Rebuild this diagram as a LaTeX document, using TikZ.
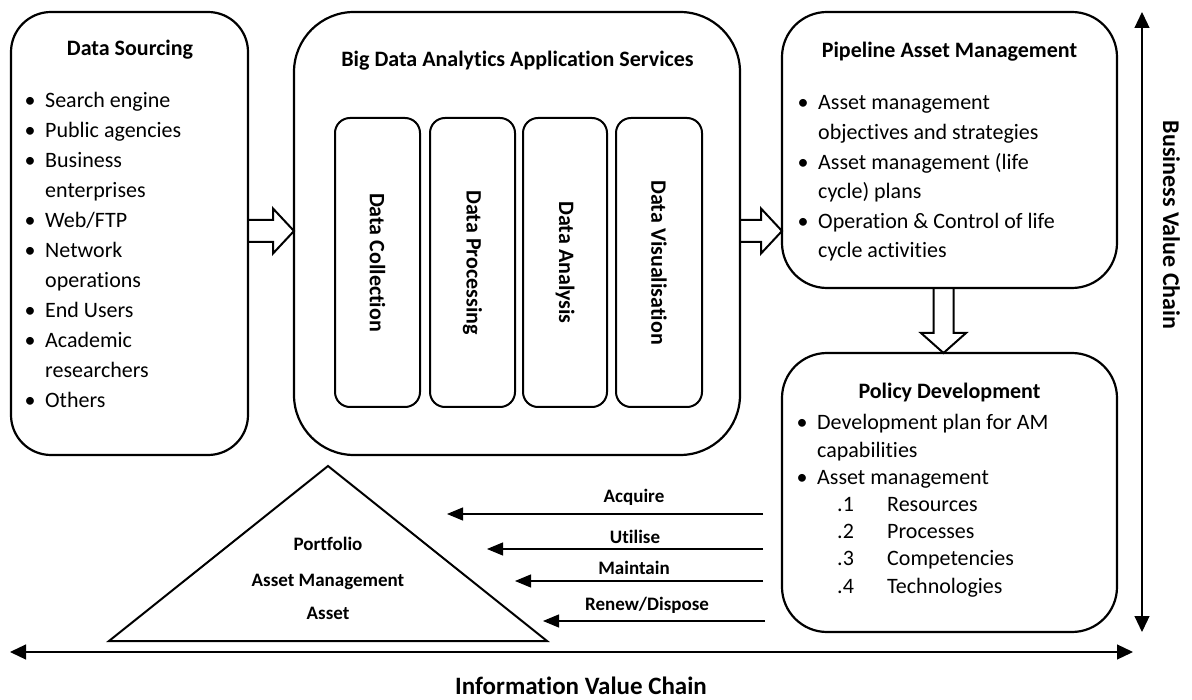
\documentclass[tikz,border=0pt]{standalone}
\usepackage{fontspec}
\setmainfont{Carlito}[Ligatures=NoCommon]
\usetikzlibrary{arrows.meta}
\newcommand{\lbul}{\makebox[16pt]{•}}
\begin{document}
\begin{tikzpicture}[x=1pt,y=-1pt,
  panel/.style={draw, line width=2.2pt, rounded corners=#1, anchor=north west, inner sep=0pt, outer sep=0pt},
  stage/.style={draw, line width=2pt, rounded corners=15pt, rotate=-90, inner sep=0pt, outer sep=0pt,
                font=\fontsize{22}{26}\selectfont\bfseries},
  heading/.style={anchor=base, inner sep=0pt, font=\fontsize{22}{26}\selectfont\bfseries},
  itemlist/.style={anchor=base west, inner sep=0pt, font=\fontsize{22}{#1}\selectfont},
  blockarr/.style={draw, line width=2pt, line join=miter},
  flow/.style={line width=1.2pt, -{Triangle[length=16pt,width=13pt]}},
  chain/.style={line width=1.2pt, {Triangle[length=16pt,width=15pt]}-{Triangle[length=16pt,width=15pt]}},
  small/.style={anchor=base, inner sep=0pt, font=\fontsize{19}{23}\selectfont\bfseries},
]
\useasboundingbox (0,0) rectangle (1192,700);

% main panels
\node[panel=40pt, minimum width=237pt, minimum height=443pt] (src) at (11,12) {};
\node[panel=60pt, minimum width=446pt, minimum height=443pt] (bda) at (294,12) {};
\node[panel=45pt, minimum width=335pt, minimum height=276pt] (pam) at (782,12) {};
\node[panel=45pt, minimum width=335pt, minimum height=279pt] (pol) at (782,353) {};

% analytics stages
\node[stage, minimum width=289pt, minimum height=85pt] (dc) at (377.5,262.5) {Data Collection};
\node[stage, minimum width=289pt, minimum height=85pt] (dp) at (472.5,262.5) {Data Processing};
\node[stage, minimum width=289pt, minimum height=84pt] (da) at (565,262.5) {Data Analysis};
\node[stage, minimum width=289pt, minimum height=86pt] (dv) at (659,262.5) {Data Visualisation};

% headings
\node[heading] (src-t) at (130,56) {Data Sourcing};
\node[heading] (bda-t) at (517.5,67) {Big Data Analytics Application Services};
\node[heading] (pam-t) at (949.5,58) {Pipeline Asset Management};
\node[heading] (pol-t) at (949.5,399) {Policy Development};

% lists
\node[itemlist=30] (src-l) at (22,108) {\begin{tabular}[t]{@{}l@{\hspace{7pt}}l@{}}
\lbul & Search engine\\
\lbul & Public agencies\\
\lbul & Business\\
      & enterprises\\
\lbul & Web/FTP\\
\lbul & Network\\
      & operations\\
\lbul & End Users\\
\lbul & Academic\\
      & researchers\\
\lbul & Others
\end{tabular}};

\node[itemlist=29.6] (pam-l) at (795,110) {\begin{tabular}[t]{@{}l@{\hspace{7pt}}l@{}}
\lbul & Asset management\\
      & objectives and strategies\\
\lbul & Asset management (life\\
      & cycle) plans\\
\lbul & Operation \& Control of life\\
      & cycle activities
\end{tabular}};

\node[itemlist=27.2] (pol-l) at (794,430) {\begin{tabular}[t]{@{}l@{\hspace{7pt}}l@{}}
\lbul & Development plan for AM\\
      & capabilities\\
\lbul & Asset management\\
      & \hspace{20pt}\makebox[50pt][l]{.1}Resources\\
      & \hspace{20pt}\makebox[50pt][l]{.2}Processes\\
      & \hspace{20pt}\makebox[50pt][l]{.3}Competencies\\
      & \hspace{20pt}\makebox[50pt][l]{.4}Technologies
\end{tabular}};

% block arrows between panels
\path (src.east |- 0,231) coordinate (s1) (bda.west |- 0,231) coordinate (t1);
\draw[blockarr] ([yshift=11pt]s1) -- ([xshift=-21pt,yshift=11pt]t1) -- ([xshift=-21pt,yshift=22.5pt]t1)
  -- (t1) -- ([xshift=-21pt,yshift=-22.5pt]t1) -- ([xshift=-21pt,yshift=-11pt]t1) -- ([yshift=-11pt]s1);

\path (bda.east |- 0,231) coordinate (s2) (pam.west |- 0,231) coordinate (t2);
\draw[blockarr] ([yshift=11pt]s2) -- ([xshift=-21pt,yshift=11pt]t2) -- ([xshift=-21pt,yshift=22.5pt]t2)
  -- (t2) -- ([xshift=-21pt,yshift=-22.5pt]t2) -- ([xshift=-21pt,yshift=-11pt]t2) -- ([yshift=-11pt]s2);

\path (pam.south -| 943.5,0) coordinate (s3) (pol.north -| 943.5,0) coordinate (t3);
\draw[blockarr] ([xshift=-10pt]s3) -- ([xshift=-10pt,yshift=20pt]t3) -- ([xshift=-22.5pt,yshift=20pt]t3)
  -- (t3) -- ([xshift=22.5pt,yshift=20pt]t3) -- ([xshift=10pt,yshift=20pt]t3) -- ([xshift=10pt]s3);

% portfolio triangle
\coordinate (apex) at (328,466);
\coordinate (bl) at (109,641);
\coordinate (br) at (547,641);
\draw[line width=2pt, line join=miter] (apex) -- (br) -- (bl) -- cycle;
\node[small] (tri1) at (328,550) {Portfolio};
\node[small] (tri2) at (328,586) {Asset Management};
\node[small] (tri3) at (328,619) {Asset};

% life-cycle arrows
\coordinate (a1s) at (763,514); \coordinate (a1e) at (447,514);
\coordinate (a2s) at (763,549); \coordinate (a2e) at (487,549);
\coordinate (a3s) at (763,581); \coordinate (a3e) at (515,581);
\coordinate (a4s) at (765,621); \coordinate (a4e) at (543,621);
\draw[flow] (a1s) -- (a1e);
\draw[flow] (a2s) -- (a2e);
\draw[flow] (a3s) -- (a3e);
\draw[flow] (a4s) -- (a4e);
\node[small] (l1) at (634,503) {Acquire};
\node[small] (l2) at (635,543) {Utilise};
\node[small] (l3) at (634,574) {Maintain};
\node[small] (l4) at (647,610) {Renew/Dispose};

% value chains
\coordinate (ivc-l) at (10,652); \coordinate (ivc-r) at (1133,652);
\coordinate (bvc-t) at (1142,12); \coordinate (bvc-b) at (1142,632);
\draw[chain] (ivc-l) -- (ivc-r);
\draw[chain] (bvc-t) -- (bvc-b);
\node[anchor=base, inner sep=0pt, font=\fontsize{25}{30}\selectfont\bfseries] (ivc) at (581,694) {Information Value Chain};
\node[rotate=-90, anchor=base, inner sep=0pt, font=\fontsize{24}{28}\selectfont\bfseries] (bvc) at (1163,225) {Business Value Chain};
\end{tikzpicture}
\end{document}
